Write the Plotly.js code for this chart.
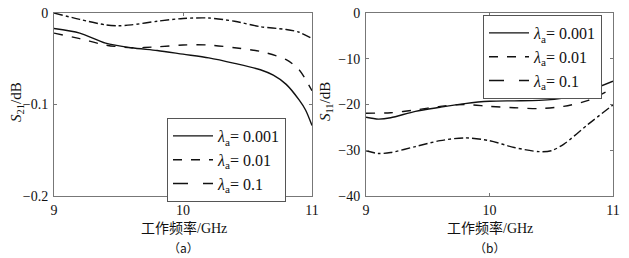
<!DOCTYPE html>
<html><head><meta charset="utf-8">
<script src="https://cdn.plot.ly/plotly-3.0.1.min.js"></script>
<style>html,body{margin:0;padding:0;background:#fff}#g{width:629px;height:258px}</style>
</head><body><div id="g"></div>
<script>
// Panel (a): S21 (dB)
const freqA = [9.0, 9.2, 9.4, 9.6, 9.8, 10.0, 10.2, 10.4, 10.6, 10.7, 10.8, 10.9, 10.95, 11.0];
const s21_001 = [-0.017, -0.022, -0.033, -0.038, -0.041, -0.045, -0.049, -0.055, -0.062, -0.068, -0.078, -0.095, -0.106, -0.123];
const freqA2 = [9.0, 9.2, 9.4, 9.6, 9.8, 10.0, 10.2, 10.4, 10.6, 10.8, 10.9, 11.0];
const s21_01 = [-0.022, -0.028, -0.035, -0.038, -0.037, -0.035, -0.035, -0.038, -0.042, -0.051, -0.062, -0.085];
const freqA3 = [9.0, 9.2, 9.4, 9.5, 9.6, 9.8, 10.0, 10.2, 10.4, 10.6, 10.8, 10.9, 11.0];
const s21_1 = [0.0, -0.007, -0.013, -0.014, -0.013, -0.009, -0.006, -0.0055, -0.009, -0.015, -0.018, -0.021, -0.028];
// Panel (b): S11 (dB)
const freqB = [9.0, 9.1, 9.2, 9.4, 9.6, 9.8, 10.0, 10.2, 10.4, 10.6, 10.8, 11.0];
const s11_001 = [-22.8, -23.2, -22.9, -21.5, -20.6, -19.8, -19.3, -19.2, -19.1, -18.6, -17.0, -14.9];
const freqB2 = [9.0, 9.2, 9.4, 9.6, 9.8, 10.0, 10.2, 10.4, 10.6, 10.8, 11.0];
const s11_01 = [-21.9, -21.8, -21.2, -20.4, -20.0, -20.4, -20.7, -20.9, -20.4, -19.1, -16.4];
const freqB3 = [9.0, 9.1, 9.2, 9.4, 9.6, 9.8, 10.0, 10.2, 10.4, 10.5, 10.6, 10.8, 11.0];
const s11_1 = [-30.1, -30.7, -30.5, -29.2, -27.9, -27.3, -27.9, -29.4, -30.3, -30.1, -28.7, -24.3, -20.1];

const seriesNames = ['<i>λ</i><sub>a</sub>= 0.001', '<i>λ</i><sub>a</sub>= 0.01', '<i>λ</i><sub>a</sub>= 0.1'];
const xTicks = [9, 10, 11];
const yTicksA = [0, -0.1, -0.2];
const yTickTextA = ['0', '−0.1', '−0.2'];
const yTicksB = [0, -10, -20, -30, -40];
const yTickTextB = ['0', '−10', '−20', '−30', '−40'];

const serif = 'Liberation Serif';
const dashes = ['solid', 'dash', 'dashdot'];
const legDashes = ['solid', 'dash', 'longdash'];

function line(x, y, i, xa, ya) {
  return {x: x, y: y, xaxis: xa, yaxis: ya, mode: 'lines', showlegend: false,
    line: {color: '#111', width: 1.4, dash: dashes[i], shape: 'spline', smoothing: 0.8}, hoverinfo: 'skip'};
}
function leg(i, lg) {
  return {x: [null], y: [null], mode: 'lines', name: seriesNames[i], legend: lg, legendgroup: lg + i,
    line: {color: '#111', width: 1.4, dash: legDashes[i]}, showlegend: true};
}
const traces = [
  line(freqA, s21_001, 0, 'x', 'y'), line(freqA2, s21_01, 1, 'x', 'y'), line(freqA3, s21_1, 2, 'x', 'y'),
  line(freqB, s11_001, 0, 'x2', 'y2'), line(freqB2, s11_01, 1, 'x2', 'y2'), line(freqB3, s11_1, 2, 'x2', 'y2'),
  leg(0, 'legend'), leg(1, 'legend'), leg(2, 'legend'),
  leg(0, 'legend2'), leg(1, 'legend2'), leg(2, 'legend2')
];

function xax(dom, anchor) {
  return {domain: dom, anchor: anchor, range: [9, 11], tickvals: xTicks, ticks: 'inside', ticklen: 3,
    showline: true, mirror: 'allticks', linecolor: '#777', linewidth: 1, tickcolor: '#777',
    showgrid: false, zeroline: false, ticklabelstandoff: 1, tickfont: {family: serif, size: 14, color: '#111'}};
}
function yax(range, tv, tt, anchor) {
  return {domain: [1 - 196/258, 1 - 13/258], anchor: anchor, range: range, tickvals: tv, ticktext: tt,
    ticks: 'inside', ticklen: 3, showline: true, mirror: 'allticks', linecolor: '#777', linewidth: 1,
    tickcolor: '#777', showgrid: false, zeroline: false, ticklabelstandoff: 2,
    tickfont: {family: serif, size: 14, color: '#111'}};
}
const legStyle = {bgcolor: '#fff', bordercolor: '#555', borderwidth: 1, xref: 'paper', yref: 'paper',
  xanchor: 'left', yanchor: 'top', font: {family: serif, size: 16, color: '#111'}, tracegroupgap: 0, itemwidth: 40};

function ann(text, x, y, size, angle, fam) {
  return {text: text, xref: 'paper', yref: 'paper', x: x/629, y: 1 - y/258, xanchor: 'center', yanchor: 'middle',
    textangle: angle || 0, showarrow: false, font: {family: fam || serif, size: size, color: '#111'}};
}
const layout = {
  width: 629, height: 258, margin: {l: 0, r: 0, t: 0, b: 0},
  paper_bgcolor: '#fff', plot_bgcolor: '#fff', showlegend: true,
  xaxis: xax([54/629, 312/629], 'y'),
  yaxis: yax([-0.2, 0], yTicksA, yTickTextA, 'x'),
  xaxis2: xax([366/629, 613/629], 'y2'),
  yaxis2: yax([-40, 0], yTicksB, yTickTextB, 'x2'),
  legend: Object.assign({}, legStyle, {x: 167/629, y: 1 - 118/258}),
  legend2: Object.assign({}, legStyle, {x: 483/629, y: 1 - 15/258}),
  annotations: [
    ann('<span style="font-family:Noto Sans CJK SC">工作频率</span>/GHz', 184, 227, 14),
    ann('<span style="font-family:Noto Sans CJK SC">工作频率</span>/GHz', 490, 227, 14),
    ann('（a）', 183, 247, 12, 0, 'Noto Sans CJK SC'),
    ann('（b）', 489, 247, 12, 0, 'Noto Sans CJK SC'),
    ann('<i>S</i><sub>21</sub>/dB', 17, 102, 15, -90),
    ann('<i>S</i><sub>11</sub>/dB', 326, 102, 15, -90)
  ]
};
Plotly.newPlot('g', traces, layout, {displayModeBar: false, staticPlot: true});
</script></body></html>
